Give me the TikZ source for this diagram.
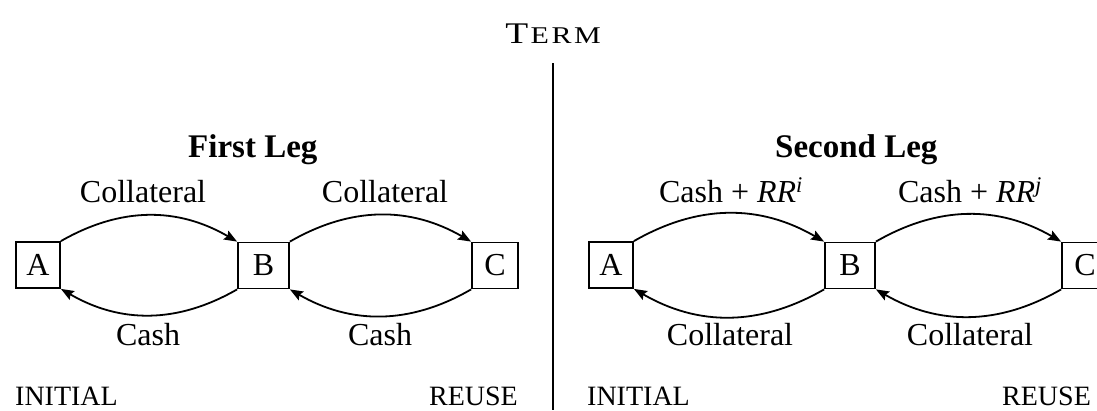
\documentclass[tikz,border=0pt]{standalone}
\usepackage{fontspec}
\setmainfont{Liberation Serif}
\usetikzlibrary{arrows.meta}
\begin{document}
\begin{tikzpicture}[x=1pt,y=-1pt,
  lbl/.style={font=\fontsize{32}{38}\selectfont, inner sep=0pt, anchor=base},
  corner/.style={font=\fontsize{28}{34}\selectfont, inner sep=0pt},
  head/.style={font=\fontsize{33}{40}\selectfont\bfseries, inner sep=0pt, anchor=base west},
  party/.style={draw, line width=1.8pt, minimum height=46pt, inner sep=0pt, font=\fontsize{32}{38}\selectfont},
  flow/.style={line width=1.8pt, -{Stealth[length=13pt,width=10pt,inset=2pt]}, bend left=30}
]
\useasboundingbox (0,0) rectangle (1097,410);
\clip (0,0) rectangle (1097,410);
% title and divider
\node[inner sep=0pt, anchor=base] (term) at (553,43) {\scalebox{1.25}[1]{\fontsize{30}{36}\selectfont T\kern2pt\fontsize{24}{28}\selectfont E\kern2pt R\kern2pt M}};
\coordinate (divtop) at (553,63);
\coordinate (divbot) at (553,410);
\draw[line width=2.6pt] (divtop) -- (divbot);
% headings
\node[head] (h1) at (188,157) {First Leg};
\node[head] (h2) at (775,157) {Second Leg};
% boxes, left
\node[party, minimum width=44pt] (A1) at (38,265) {A};
\node[party, minimum width=51pt] (B1) at (263.5,265.5) {B};
\node[party, minimum width=46pt] (C1) at (495,265.5) {C};
% boxes, right
\node[party, minimum width=44pt] (A2) at (611,265) {A};
\node[party, minimum width=50pt] (B2) at (850,265.5) {B};
\node[party, minimum width=46pt] (C2) at (1085,265.5) {C};
% flows, left
\draw[flow] (A1.north east) to (B1.north west);
\draw[flow] (B1.south west) to (A1.south east);
\draw[flow] (B1.north east) to (C1.north west);
\draw[flow] (C1.south west) to (B1.south east);
% flows, right
\draw[flow] (A2.north east) to (B2.north west);
\draw[flow] (B2.south west) to (A2.south east);
\draw[flow] (B2.north east) to (C2.north west);
\draw[flow] (C2.south west) to (B2.south east);
% labels, left
\node[lbl] (l1) at (143,202) {Collateral};
\node[lbl] (l2) at (385,202) {Collateral};
\node[lbl] (l3) at (148,345) {Cash};
\node[lbl] (l4) at (380,345) {Cash};
% labels, right
\node[lbl] (r1) at (731,202) {Cash + {\itshape RR}\textsuperscript{\itshape i}};
\node[lbl] (r2) at (970,202) {Cash + {\itshape RR}\textsuperscript{\itshape j}};
\node[lbl] (r3) at (730,345) {Collateral};
\node[lbl] (r4) at (970,345) {Collateral};
% corner labels
\node[corner, anchor=base west] (i1) at (15,405) {INITIAL};
\node[corner, anchor=base east] (u1) at (518,405) {REUSE};
\node[corner, anchor=base west] (i2) at (587,405) {INITIAL};
\node[corner, anchor=base west] (u2) at (1002,405) {REUSE};
\end{tikzpicture}
\end{document}
